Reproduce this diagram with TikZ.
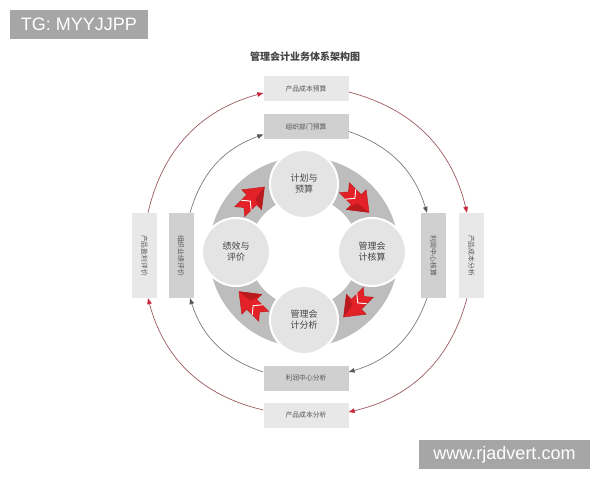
\documentclass[tikz,border=0pt]{standalone}
\usepackage{fontspec}
\setmainfont{Liberation Sans}
\newfontfamily\cjk{Noto Sans CJK SC}
\usetikzlibrary{arrows.meta}
\definecolor{boxL}{HTML}{E8E8E8}
\definecolor{boxD}{HTML}{D0D0D0}
\definecolor{ringC}{HTML}{BDBDBD}
\definecolor{circC}{HTML}{E4E4E4}
\definecolor{redA}{HTML}{E32227}
\definecolor{redD}{HTML}{B81A1E}
\definecolor{outerL}{HTML}{9E5A60}
\definecolor{outerT}{HTML}{C8283C}
\definecolor{innerL}{HTML}{7A7A7A}
\definecolor{innerT}{HTML}{5A5A5A}
\definecolor{wm}{HTML}{A6A6A6}
\definecolor{txt}{HTML}{555555}
\definecolor{ctxt}{HTML}{444444}
\newcommand\RedArrowMark[3]{%
\begin{scope}[shift={(#1,#2)},rotate=#3]
 \fill[redA, draw=redD, line width=0.4pt] (-17,-7) -- (0,-7) -- (0,-14) -- (18,0) -- (0,14) -- (0,7) -- (-17,7) -- (-11,0) -- cycle;
 \fill[redD] (0,-14) -- (18,0) -- (3,-2) -- cycle;
 \draw[white, line width=0.9pt] (-8,-7.3) -- (-2,0) -- (-8,7.3);
\end{scope}}
\begin{document}
\begin{tikzpicture}[x=1pt,y=1pt,
 hbox/.style={minimum width=85pt, minimum height=25pt, inner sep=0pt, font=\cjk\fontsize{6.8}{7}\selectfont, text=txt},
 vbox/.style={minimum width=25pt, minimum height=85pt, inner sep=0pt, font=\cjk\fontsize{6.8}{7}\selectfont, text=txt},
 lt/.style={fill=boxL}, dk/.style={fill=boxD},
 phase/.style={circle, fill=circC, draw=white, line width=2pt, minimum size=68pt, inner sep=0pt, align=center, font=\cjk\fontsize{9}{11}\selectfont, text=ctxt},
 outerarc/.style={draw=outerL, line width=0.7pt, -{Triangle[length=6pt,width=4.5pt,color=outerT]}, bend left=31},
 innerarc/.style={draw=innerL, line width=0.7pt, -{Triangle[length=6pt,width=4.5pt,color=innerT]}, bend left=27},
 wmbox/.style={fill=wm, text=white, inner sep=0pt, font=\fontsize{18}{20}\selectfont}
]
\useasboundingbox[fill=white] (0,0) rectangle (600,480);

% watermarks
\node[wmbox, minimum width=138pt, minimum height=29pt] (tg) at (79,455.5) {TG: MYYJJPP};
\node[wmbox, minimum width=171pt, minimum height=29pt] (www) at (504.5,25.5) {www.rjadvert.com};

% title
\node[font=\cjk\bfseries\fontsize{10}{12}\selectfont, text=ctxt] (title) at (305,423) {管理会计业务体系架构图};

% ring
\fill[ringC, even odd rule] (304,228) circle[radius=95] (304,228) circle[radius=55];

% phase circles
\node[phase] (plan) at (304,296) {计划与\\预算};
\node[phase] (acct) at (372,228) {管理会\\计核算};
\node[phase] (anal) at (304,160) {管理会\\计分析};
\node[phase] (eval) at (236,228) {绩效与\\评价};

% red arrows
\RedArrowMark{356.3}{280.3}{-45}
\RedArrowMark{356.3}{175.7}{-135}
\RedArrowMark{251.7}{175.7}{135}
\RedArrowMark{251.7}{280.3}{45}

% boxes
\node[hbox, lt] (pcys) at (306,391.5) {产品成本预算};
\node[hbox, dk] (zzbm) at (306,353.5) {组织部门预算};
\node[hbox, dk] (lrfx) at (306,102) {利润中心分析};
\node[hbox, lt] (pcfB) at (306,65) {产品成本分析};
\node[vbox, lt] (pyl) at (144.5,224.5) {\rotatebox{-90}{产品盈利评价}};
\node[vbox, dk] (zzyj) at (181,224.5) {\rotatebox{-90}{组织业绩评价}};
\node[vbox, dk] (lrhs) at (433.5,224.5) {\rotatebox{-90}{利润中心核算}};
\node[vbox, lt] (pcfR) at (471.5,224.5) {\rotatebox{-90}{产品成本分析}};

% outer arcs
\draw[outerarc] ([yshift=-3.5pt]pcys.east) to ([xshift=-4.5pt]pcfR.north);
\draw[outerarc] ([xshift=-4.5pt]pcfR.south) to ([yshift=3pt]pcfB.east);
\draw[outerarc] ([yshift=5pt]pcfB.west) to ([xshift=3.5pt]pyl.south);
\draw[outerarc] ([xshift=3.5pt]pyl.north) to ([yshift=-4.5pt]pcys.west);

% inner arcs
\draw[innerarc] ([yshift=-5pt]zzbm.east) to ([xshift=-6.5pt]lrhs.north);
\draw[innerarc] ([xshift=-6.5pt]lrhs.south) to ([yshift=6pt]lrfx.east);
\draw[innerarc] ([yshift=6pt]lrfx.west) to ([xshift=9pt]zzyj.south);
\draw[innerarc] ([xshift=9pt]zzyj.north) to ([yshift=-8pt]zzbm.west);
\end{tikzpicture}
\end{document}
